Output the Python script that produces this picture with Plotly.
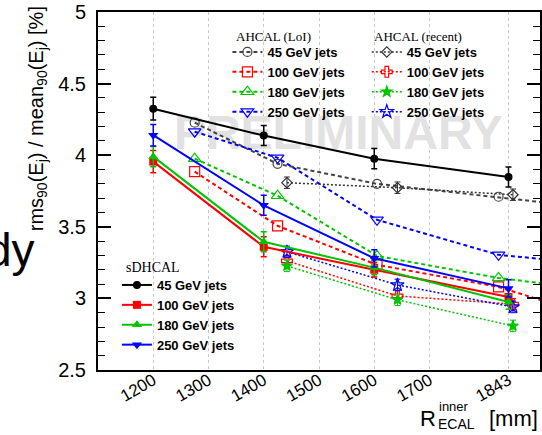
import plotly.graph_objects as go

# ---------------- data ----------------
x_sdhcal = [1200, 1400, 1600, 1843]
sd_45 = [4.325, 4.137, 3.976, 3.848]
sd_100 = [3.955, 3.36, 3.20, 3.01]
sd_180 = [3.99, 3.395, 3.215, 2.975]
sd_250 = [4.14, 3.65, 3.28, 3.07]
sd_err_45 = [0.08, 0.07, 0.07, 0.07]
sd_err_100 = [0.077, 0.07, 0.05, 0.05]
sd_err_180 = [0.07, 0.07, 0.05, 0.05]
sd_err_250 = [0.075, 0.07, 0.06, 0.06]

x_loi = [1275, 1425, 1605, 1825, 2000]
loi_45 = [4.227, 3.94, 3.80, 3.71, 3.63]
loi_100 = [3.885, 3.507, 3.234, 3.08, 2.87]
loi_180 = [3.976, 3.717, 3.297, 3.143, 3.06]
loi_250 = [4.164, 3.982, 3.549, 3.304, 3.24]

x_recent = [1442, 1642, 1851]
rec_45 = [3.808, 3.773, 3.724]
rec_100 = [3.262, 3.017, 2.96]
rec_180 = [3.227, 2.99, 2.808]
rec_250 = [3.325, 3.094, 2.94]
rec_err = [0.04, 0.04, 0.04]

x_ticks = [1200, 1300, 1400, 1500, 1600, 1700, 1843]
x_tick_text = ["1200", "1300", "1400", "1500", "1600", "1700", "1843"]
energies = ["45 GeV jets", "100 GeV jets", "180 GeV jets", "250 GeV jets"]

# ---------------- layout helpers ----------------
W, H = 542, 435
ML, MR, MT, MB = 98, 0, 12, 65
PW, PH = W - ML - MR, H - MT - MB


def px(xp):
    return (xp - ML) / PW


def py(yp):
    return (H - MB - yp) / PH


RED, GREEN, BLUE, BLACK = "#ff0000", "#00c400", "#0000ff", "#000000"
SANS = "Liberation Sans, Arial, Helvetica, sans-serif"
SERIF = "Liberation Serif, Times New Roman, serif"

fig = go.Figure()

# watermark behind everything
fig.add_trace(go.Scatter(
    x=[1535], y=[4.13], mode="text", text=["PRELIMINARY"],
    textfont=dict(family=SANS, size=48, color="#e2e2e2", weight="bold"),
    showlegend=False, hoverinfo="skip"))

# AHCAL LoI (dashed, open markers)
loi_sets = [(loi_45, "#444444", "circle-open", 9),
            (loi_100, RED, "square-open", 10),
            (loi_180, GREEN, "triangle-up-open", 11),
            (loi_250, BLUE, "triangle-down-open", 11)]
for (vals, col, sym, sz), name in zip(loi_sets, energies):
    fig.add_trace(go.Scatter(
        x=x_loi, y=vals, mode="lines+markers", name=name, legend="legend",
        line=dict(color=col, width=2, dash="4px,3px"),
        marker=dict(symbol=sym, size=sz, color=col, line=dict(width=1.2, color=col))))

# AHCAL recent (dotted)
rec_sets = [(rec_45, "#333333", "diamond-open", 8),
            (rec_100, RED, "cross-open", 9),
            (rec_180, GREEN, "star", 8),
            (rec_250, BLUE, "star-open", 10)]
for (vals, col, sym, sz), name in zip(rec_sets, energies):
    fig.add_trace(go.Scatter(
        x=x_recent, y=vals, mode="lines+markers", name=name, legend="legend2",
        line=dict(color=col, width=1.5, dash="2px,2px"),
        error_y=dict(type="data", array=rec_err, color=col, thickness=1, width=3),
        marker=dict(symbol=sym, size=sz, color=col, line=dict(width=1.2, color=col))))

# sDHCAL (solid, filled markers, error bars)
sd_sets = [(sd_45, sd_err_45, BLACK, "circle", 8),
           (sd_100, sd_err_100, RED, "square", 8),
           (sd_180, sd_err_180, GREEN, "triangle-up", 9),
           (sd_250, sd_err_250, BLUE, "triangle-down", 9)]
for (vals, err, col, sym, sz), name in zip(sd_sets, energies):
    fig.add_trace(go.Scatter(
        x=x_sdhcal, y=vals, mode="lines+markers", name=name, legend="legend3",
        line=dict(color=col, width=2),
        error_y=dict(type="data", array=err, color=col, thickness=1.5, width=3),
        marker=dict(symbol=sym, size=sz, color=col)))

leg_font = dict(family=SANS, size=13, color="black", weight="bold")
common_leg = dict(xanchor="left", yanchor="top", bgcolor="rgba(0,0,0,0)",
                  itemwidth=30, tracegroupgap=0, borderwidth=0, font=leg_font)

fig.update_layout(
    width=W, height=H,
    margin=dict(l=ML, r=MR, t=MT, b=MB),
    paper_bgcolor="white", plot_bgcolor="white",
    font=dict(family=SANS, color="black"),
    legend=dict(x=px(228), y=py(37), **common_leg),
    legend2=dict(x=px(368), y=py(37), **common_leg),
    legend3=dict(x=px(117), y=py(270), **common_leg),
    xaxis=dict(range=[1100, 1900], tickmode="array", tickvals=x_ticks, ticktext=x_tick_text,
               tickangle=-30, tickfont=dict(size=17, family=SANS), ticks="",
               ticklabelstandoff=-8,
               showgrid=True, gridcolor="#c8c8c8", griddash="dot", gridwidth=1,
               showline=True, linecolor="black", linewidth=2, mirror=True,
               zeroline=False),
    yaxis=dict(range=[2.5, 5], tickvals=[2.5, 3, 3.5, 4, 4.5, 5],
               ticktext=["2.5", "3", "3.5", "4", "4.5", "5"],
               tickfont=dict(size=20, family=SANS), ticks="inside", ticklen=13,
               tickwidth=1.5, tickcolor="black",
               minor=dict(dtick=0.1, ticks="inside", ticklen=7, tickwidth=1, tickcolor="black"),
               showgrid=False, showline=True, linecolor="black", linewidth=2,
               mirror="ticks", zeroline=False, ticklabelstandoff=6),
    showlegend=True,
)


def ann(text, xp, yp, size, family=SANS, xanchor="left", yanchor="middle", **kw):
    return dict(text=text, x=px(xp), y=py(yp), xref="paper", yref="paper",
                showarrow=False, xanchor=xanchor, yanchor=yanchor,
                font=dict(size=size, family=family, color="black"), **kw)


annotations = [
    # legend titles
    ann("AHCAL (LoI)", 235, 36, 13, SERIF),
    ann("AHCAL (recent)", 373, 36, 13, SERIF),
    ann("sDHCAL", 124, 267, 14, SERIF),
    # y-axis title
    ann("rms<sub>90</sub>(E<sub>j</sub>) / mean<sub>90</sub>(E<sub>j</sub>) [%]",
        37, 119, 20, xanchor="center", textangle=-90),
    # x-axis title pieces
    ann("R", 440, 433, 22, xanchor="right", yanchor="bottom"),
    ann("inner", 439, 416, 13, yanchor="bottom"),
    ann("ECAL", 438, 434, 14, yanchor="bottom"),
    ann("[mm]", 542, 433, 22, xanchor="right", yanchor="bottom"),
    # cropped slide text on the far left
    ann("dy", 37, 278, 46, xanchor="right", yanchor="bottom"),
]
fig.update_layout(annotations=annotations)

fig.write_html("out.html")
